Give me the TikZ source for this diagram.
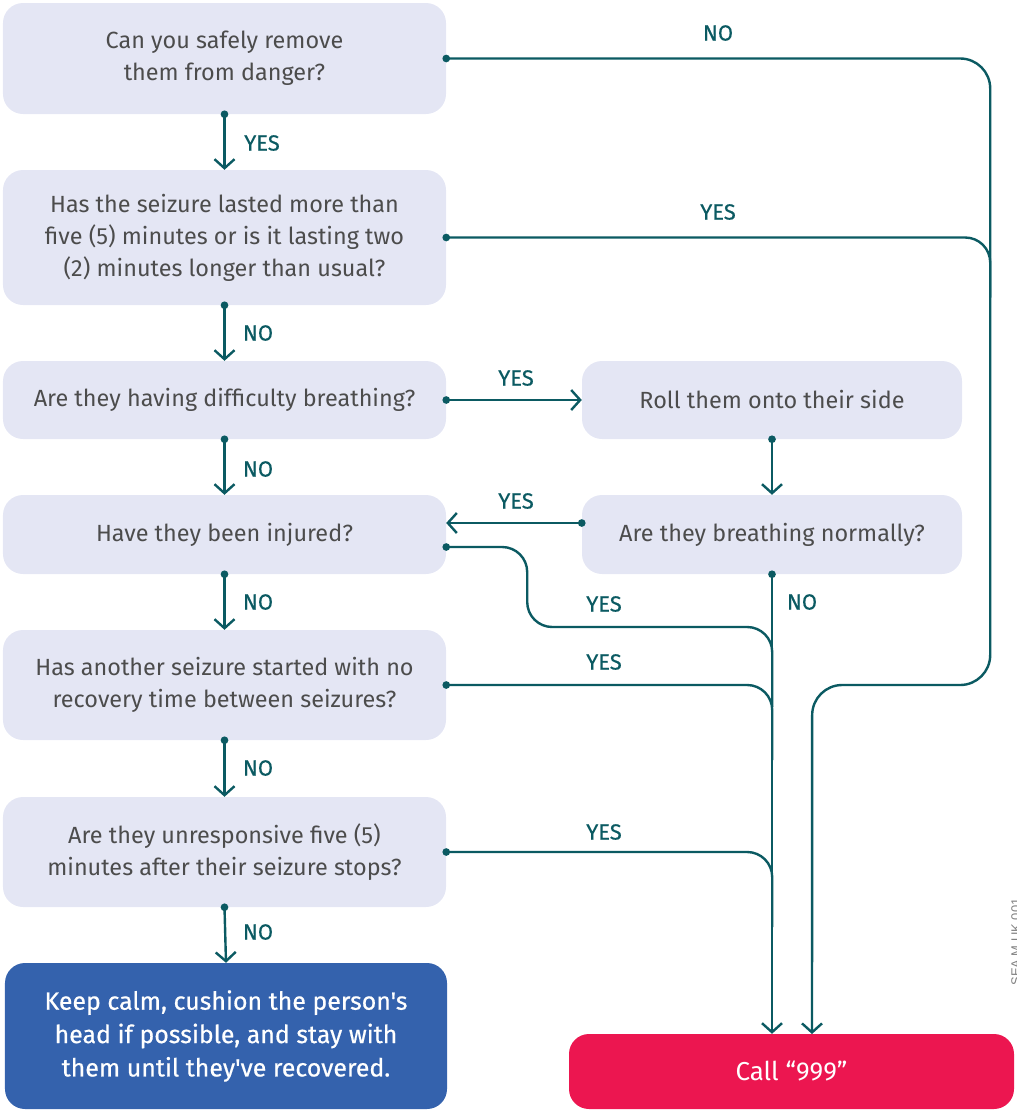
\documentclass[tikz,border=0pt]{standalone}
\usepackage{fontspec}
\setmainfont{Fira Sans}[Ligatures=TeXOff]
\newfontfamily\medfont{Fira Sans}[FakeBold=0.6,Ligatures=TeXOff]
\newfontfamily\sidefont{Liberation Sans}
\usetikzlibrary{arrows.meta}
\definecolor{boxfill}{HTML}{E4E6F4}
\definecolor{teal}{HTML}{0B5A62}
\definecolor{txtgray}{HTML}{4C4C4C}
\definecolor{keepblue}{HTML}{3462AD}
\definecolor{callred}{HTML}{EC1650}
\tikzset{
  x=1bp, y=-1bp,
  qbox/.style={rectangle, rounded corners=20bp, fill=boxfill, text=txtgray, align=center,
    font=\fontsize{23.5}{32}\selectfont, inner sep=0pt},
  flow/.style={draw=teal, line width=2.4bp, {Circle[length=7.5bp]}-{Straight Barb[length=9bp,width=20bp,line width=2.4bp]}, shorten <=-3.7bp},
  merge/.style={draw=teal, line width=2.4bp, {Circle[length=7.5bp]}-, shorten <=-3.7bp, rounded corners=25bp},
  lbl/.style={text=teal, font=\medfont\fontsize{22}{26}\selectfont, inner sep=0pt},
}
\begin{document}
\begin{tikzpicture}
\useasboundingbox (0,0) rectangle (1017,1111);
% left column
\node[qbox, minimum width=443bp, minimum height=111bp] (q1) at (224.5,58.5) {Can you safely remove\\them from danger?};
\node[qbox, minimum width=443bp, minimum height=135bp] (q2) at (224.5,237.5) {Has the seizure lasted more than\\five (5) minutes or is it lasting two\\(2) minutes longer than usual?};
\node[qbox, minimum width=443bp, minimum height=78bp] (q3) at (224.5,400) {Are they having difficulty breathing?};
\node[qbox, minimum width=443bp, minimum height=79bp] (q4) at (224.5,534.5) {Have they been injured?};
\node[qbox, minimum width=443bp, minimum height=110bp] (q5) at (224.5,685) {Has another seizure started with no\\recovery time between seizures?};
\node[qbox, minimum width=443bp, minimum height=110bp] (q6) at (224.5,852) {Are they unresponsive five (5)\\minutes after their seizure stops?};
\node[qbox, fill=keepblue, text=white, minimum width=442bp, minimum height=146bp, font=\medfont\fontsize{25}{33.5}\selectfont] (keep) at (226,1036) {Keep calm, cushion the person's\\head if possible, and stay with\\them until they've recovered.};
% right column
\node[qbox, minimum width=380bp, minimum height=78bp] (r1) at (772,400) {Roll them onto their side};
\node[qbox, minimum width=380bp, minimum height=79bp] (r2) at (772,534.5) {Are they breathing normally?};
\node[qbox, fill=callred, text=white, minimum width=445bp, minimum height=75bp, font=\fontsize{26}{33}\selectfont] (call) at (791.5,1071.5) {Call “999”};
\coordinate (callin1) at (r2.south |- call.north);
\coordinate (callin2) at (812,1034);
% side code
\node[rotate=90, text=txtgray!70, font=\sidefont\fontsize{13}{15}\selectfont, inner sep=0pt] (code) at (1016,942) {SEA M UK 001};
% merging connectors
\draw[merge] (q2.east) -- ++(544,0) -- ++(0,60);
\draw[merge] ([yshift=-12.5bp]q4.east) -- ++(81,0) -- ++(0,80) -- ++(245,0) -- ++(0,80);
\draw[merge] (q5.east) -- ++(326,0) -- ++(0,75);
\draw[merge] (q6.east) -- ++(326,0) -- ++(0,75);
% arrows
\draw[flow, rounded corners=30bp] (q1.east) -- ++(544,0) -- ++(0,626.5) -- ++(-178,0) -- (callin2);
\draw[flow] (r2.south) -- (callin1);
\draw[flow] (q1.south) -- (q2.north);
\draw[flow] (q2.south) -- (q3.north);
\draw[flow] (q3.south) -- (q4.north);
\draw[flow] (q4.south) -- (q5.north);
\draw[flow] (q5.south) -- (q6.north);
\draw[flow] (q6.south) -- (keep.north);
\draw[flow] (q3.east) -- (r1.west);
\draw[flow] (r1.south) -- (r2.north);
\draw[flow] ([yshift=11.5bp]r2.west) -- ([yshift=11.5bp]r2.west -| q4.east);
% labels
\node[lbl] (l1) at (262,143) {YES};
\node[lbl] (l2) at (258,333) {NO};
\node[lbl] (l3) at (258,469) {NO};
\node[lbl] (l4) at (258,602) {NO};
\node[lbl] (l5) at (258,768) {NO};
\node[lbl] (l6) at (258,932) {NO};
\node[lbl] (l7) at (718,33) {NO};
\node[lbl] (l8) at (718,212) {YES};
\node[lbl] (l9) at (516,378) {YES};
\node[lbl] (l10) at (516,501) {YES};
\node[lbl] (l11) at (604,604) {YES};
\node[lbl] (l12) at (802,602) {NO};
\node[lbl] (l13) at (604,662) {YES};
\node[lbl] (l14) at (604,832) {YES};
\end{tikzpicture}
\end{document}
